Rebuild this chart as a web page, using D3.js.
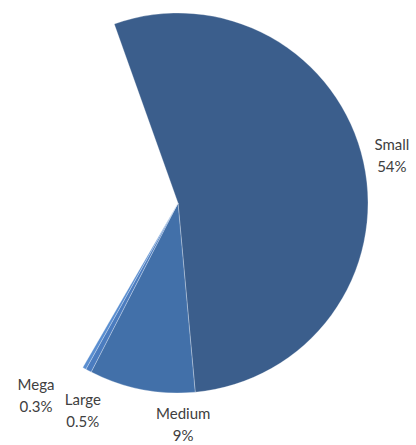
<!DOCTYPE html>
<html>
<head>
<meta charset="utf-8">
<script src="https://cdn.jsdelivr.net/npm/d3@7"></script>
<style>
  html, body { margin: 0; padding: 0; background: #ffffff; }
  svg { display: block; }
  text { font-family: Lato, "Open Sans", sans-serif; font-size: 15px; fill: #404040; }
</style>
</head>
<body>
<svg id="chart" width="416" height="445"></svg>
<script>
// Share of enterprises by size class (percent of total)
const categories = ["Small", "Medium", "Large", "Mega"];
const shares = [54, 9, 0.5, 0.3];
const shareLabels = ["54%", "9%", "0.5%", "0.3%"];
const colors = ["#3b5e8c", "#4270a9", "#4b7cbf", "#5a8ed0"];

const width = 416, height = 445;
const cx = 178, cy = 203, radius = 190;

// The full circle represents 100%; only the listed classes are drawn.
const angle = d3.scaleLinear().domain([0, 100]).range([0, 2 * Math.PI]);
const start = -19.6 * Math.PI / 180;

const pie = d3.pie()
  .sort(null)
  .value(d => d.value)
  .startAngle(start)
  .endAngle(start + angle(d3.sum(shares)));

const data = categories.map((c, i) => ({ name: c, value: shares[i], label: shareLabels[i], color: colors[i] }));
const arcs = pie(data);

const arc = d3.arc().innerRadius(0).outerRadius(radius);
const labelArc = d3.arc().innerRadius(radius + 29).outerRadius(radius + 29);

// Label placement tweaks around the outer ring
const nudge = {
  Small:  [0, 0],
  Medium: [47, 7],
  Large:  [8, 15],
  Mega:   [-34, 2]
};

const svg = d3.select("#chart");
const g = svg.append("g").attr("transform", `translate(${cx},${cy})`);

g.selectAll("path.slice")
  .data(arcs)
  .join("path")
  .attr("class", "slice")
  .attr("d", arc)
  .attr("fill", d => d.data.color)
  .attr("stroke", "rgba(255,255,255,0.35)")
  .attr("stroke-width", 0.8)
  .attr("stroke-linejoin", "round");

const labels = g.selectAll("text.lbl")
  .data(arcs)
  .join("text")
  .attr("class", "lbl")
  .attr("text-anchor", "middle")
  .attr("transform", d => {
    const [x, y] = labelArc.centroid(d);
    const [dx, dy] = nudge[d.data.name];
    return `translate(${x + dx},${y + dy})`;
  });

labels.append("tspan").attr("x", 0).attr("y", -6).text(d => d.data.name);
labels.append("tspan").attr("x", 0).attr("y", 16).text(d => d.data.label);
</script>
</body>
</html>
